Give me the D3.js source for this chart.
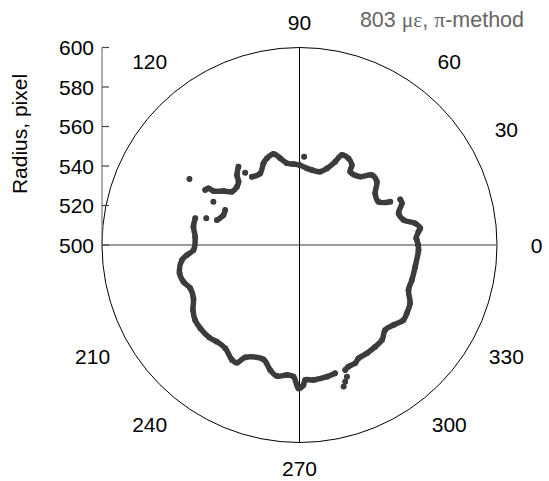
<!DOCTYPE html>
<html>
<head>
<meta charset="utf-8">
<script src="https://cdn.jsdelivr.net/npm/d3@7"></script>
<style>
  body { margin: 0; background: #fff; }
  text { font-family: "Liberation Sans", Arial, Helvetica, sans-serif; }
</style>
</head>
<body>
<script>
// radial values in pixel, angle in degrees (null = gap in the trace)
const curveAngles = [
  0, 2.4, 3.3, 6.4, 7.9, 10.6, 13.5, 17.8, 22.2, 24.4, null,
  25.5, 28.7, 34.3, 39.3, 44.0, 48.4, 55.3, 56.8, 60.5, 64.8, 66.8, 70.3, 74.2, 80.6, 84.5,
  90.0, 94.2, 98.8, 102.5, 105.9, 110.6, 113.8, 118.7, 124.9, null,
  87.0, null, 126.9, null,
  127.9, 131.8, 133.9, 137.0, 141.7, 144.6, 147.9, 148.1, 149.7, null,
  149.0, null, 153.3, null,
  154.8, 158.5, 163.2, null,
  164.0, null,
  165.6, 170.2, 175.5, 182.7, 185.1, 187.3, 193.3, 197.6, 201.6, 206.7, 211.4, 215.7, 220.0,
  225.8, 229.5, 234.3, 239.6, 242.0, 244.2, 252.5, 256.8, 260.2, 264.5, 267.4, 269.6, 271.6,
  272.4, 275.9, 281.8, 285.5, null,
  287.3, null, 288.5, null, 289.8, null,
  290.1, 291.9, 295.3, 297.5, 301.9, 306.7, 311.0, 315.2, 319.6, 324.2, 327.5, 332.2, 337.6,
  342.7, 349.4, 357.6, 360
];
const curveRadii = [
  560.1, 559.5, 559.2, 560.6, 561.7, 559.6, 554.2, 552.7, 556.0, 556.0, null,
  550.9, 545.6, 546.4, 550.6, 551.0, 546.3, 545.1, 548.4, 550.4, 550.4, 545.9, 541.2, 538.6, 538.5, 539.0,
  540.5, 541.1, 541.9, 545.0, 547.9, 546.9, 545.2, 541.4, 542.1, null,
  544.8, null, 545.8, null,
  550.3, 547.5, 544.5, 543.3, 543.6, 547.2, 551.4, 554.3, 555.3, null,
  565.0, null, 548.8, null,
  541.6, 541.4, 543.7, null,
  549.1, null,
  554.5, 554.5, 553.0, 553.7, 557.2, 560.0, 562.4, 561.6, 559.5, 560.1, 563.2, 565.1, 565.6,
  565.4, 564.4, 564.4, 567.5, 567.5, 563.2, 560.7, 565.0, 567.3, 566.1, 566.7, 572.6, 570.9,
  568.4, 568.7, 568.1, 567.4, null,
  575.1, null, 573.0, null, 570.9, null,
  567.4, 566.4, 566.1, 564.7, 564.6, 564.2, 563.7, 561.1, 562.5, 564.9, 564.4, 563.3, 559.7,
  559.6, 559.6, 560.3, 560.1
];
const radialTicks = [500, 520, 540, 560, 580, 600];
const angleLabels = [0, 30, 60, 90, 120, 210, 240, 270, 300, 330];
const titleText = "803 ";

const width = 549, height = 481;
const cx = 299.5, cy = 245, R = 197.5;

const svg = d3.select("body").append("svg")
    .attr("width", width)
    .attr("height", height);

const r = d3.scaleLinear().domain([500, 600]).range([0, R]);
const toRad = d => d * Math.PI / 180;

// frame: circle and cross
svg.append("circle")
    .attr("cx", cx).attr("cy", cy).attr("r", R)
    .attr("fill", "none").attr("stroke", "#000").attr("stroke-width", 1);

svg.append("line")
    .attr("x1", 102).attr("x2", cx + R).attr("y1", cy).attr("y2", cy)
    .attr("stroke", "#7a7a7a").attr("stroke-width", 1.6);

svg.append("line")
    .attr("x1", cx).attr("x2", cx).attr("y1", cy - R).attr("y2", cy + R)
    .attr("stroke", "#000").attr("stroke-width", 1);

// radial axis on the left
const yAxis = d3.scaleLinear().domain([500, 600]).range([cy, cy - R]);
const ax = svg.append("g").attr("transform", "translate(102,0)");
ax.append("line")
    .attr("x1", 0).attr("x2", 0).attr("y1", yAxis(600)).attr("y2", cy + 5)
    .attr("stroke", "#777").attr("stroke-width", 1.2);
ax.selectAll(".tick").data(radialTicks).enter().append("line")
    .attr("x1", 0).attr("x2", 7)
    .attr("y1", d => yAxis(d)).attr("y2", d => yAxis(d))
    .attr("stroke", "#444").attr("stroke-width", 1.2);
ax.selectAll(".lbl").data(radialTicks).enter().append("text")
    .attr("x", -8).attr("y", d => yAxis(d))
    .attr("text-anchor", "end").attr("dominant-baseline", "central")
    .attr("font-size", 21).attr("fill", "#000")
    .text(d => d);

svg.append("text")
    .attr("transform", "translate(19," + 134 + ") rotate(-90)")
    .attr("text-anchor", "middle").attr("dominant-baseline", "central")
    .attr("font-size", 21)
    .text("Radius, pixel");

// angle labels (placed like the original plot, a bit pulled toward the diagonals)
function labelPos(t) {
  const a = toRad(t);
  const c = Math.cos(a), s = Math.sin(a);
  let acute = Math.round(Math.atan2(Math.abs(s), Math.abs(c)) * 180 / Math.PI);
  let dist = 237;
  if (acute === 30) acute = 29.2;
  else if (acute === 60) acute = 50.8;
  else if (acute === 90) dist = 223;
  const b = toRad(acute);
  const sy = Math.sign(Math.round(s * 1000));
  const lift = (sy < 0 && acute !== 90) ? 4 : 0;
  return [cx + Math.sign(Math.round(c * 1000)) * dist * Math.cos(b),
          cy - sy * dist * Math.sin(b) - lift];
}
svg.selectAll(".alabel").data(angleLabels).enter().append("text")
    .attr("x", d => labelPos(d)[0])
    .attr("y", d => labelPos(d)[1])
    .attr("text-anchor", "middle").attr("dominant-baseline", "central")
    .attr("font-size", 21)
    .text(d => d);

// title
const title = svg.append("text")
    .attr("x", 524).attr("y", 20)
    .attr("text-anchor", "end").attr("dominant-baseline", "central")
    .attr("font-size", 21.5).attr("fill", "#666");
title.append("tspan").text(titleText);
title.append("tspan").attr("font-family", "'Liberation Serif', 'Times New Roman', serif").text("\u03bc\u03b5");
title.append("tspan").text(", ");
title.append("tspan").attr("font-family", "'Liberation Serif', 'Times New Roman', serif").text("\u03c0");
title.append("tspan").text("-method");

// trace
const pts = curveAngles.map((a, i) => a === null ? null : {
  x: cx + r(curveRadii[i]) * Math.cos(toRad(a)),
  y: cy - r(curveRadii[i]) * Math.sin(toRad(a))
});

const line = d3.line()
    .defined(d => d !== null)
    .x(d => d.x).y(d => d.y)
    .curve(d3.curveCatmullRom);

svg.append("path")
    .datum(pts)
    .attr("d", line)
    .attr("fill", "none")
    .attr("stroke", "#3c3c3c")
    .attr("stroke-width", 5.5)
    .attr("stroke-linejoin", "round")
    .attr("stroke-linecap", "round");

svg.selectAll(".pt").data(pts.filter(d => d !== null)).enter().append("circle")
    .attr("cx", d => d.x).attr("cy", d => d.y).attr("r", 2.9)
    .attr("fill", "#3c3c3c");
</script>
</body>
</html>
